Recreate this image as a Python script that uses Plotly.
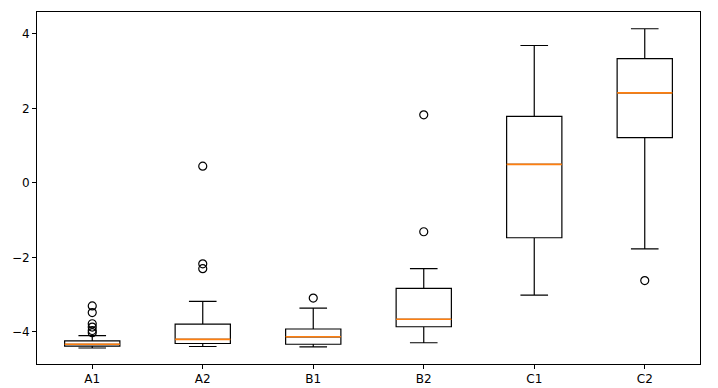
import plotly.graph_objects as go

categories = ["A1", "A2", "B1", "B2", "C1", "C2"]
positions = [1, 2, 3, 4, 5, 6]
q1 = [-4.38, -4.31, -4.33, -3.86, -1.47, 1.22]
median = [-4.33, -4.20, -4.13, -3.66, 0.50, 2.42]
q3 = [-4.24, -3.79, -3.92, -2.83, 1.79, 3.34]
lowerfence = [-4.43, -4.39, -4.40, -4.29, -3.01, -1.77]
upperfence = [-4.10, -3.18, -3.36, -2.30, 3.69, 4.14]
outliers = [
    [-3.30, -3.48, -3.78, -3.87, -3.96, -4.02],
    [0.45, -2.17, -2.30],
    [-3.09],
    [1.83, -1.31],
    [],
    [-2.62],
]

box_width = 0.5

fig = go.Figure()
fig.add_trace(go.Box(
    x=positions, q1=q1, median=median, q3=q3,
    lowerfence=lowerfence, upperfence=upperfence,
    width=box_width, whiskerwidth=0.5, boxpoints=False,
    fillcolor="rgba(255,255,255,0)",
    line=dict(color="black", width=1.2),
    showlegend=False, hoverinfo="skip",
))

# median lines in orange
mx, my = [], []
for p, m in zip(positions, median):
    mx += [p - box_width / 2, p + box_width / 2, None]
    my += [m, m, None]
fig.add_trace(go.Scatter(
    x=mx, y=my, mode="lines",
    line=dict(color="#ff7f0e", width=1.6),
    showlegend=False, hoverinfo="skip",
))

# outliers
ox, oy = [], []
for p, vals in zip(positions, outliers):
    for v in vals:
        ox.append(p)
        oy.append(v)
fig.add_trace(go.Scatter(
    x=ox, y=oy, mode="markers",
    marker=dict(symbol="circle-open", size=8, color="black", line=dict(width=1.2)),
    showlegend=False, hoverinfo="skip",
))

axis_common = dict(
    showgrid=False, zeroline=False, showline=True, mirror=True, automargin=False,
    linecolor="black", linewidth=1, ticks="outside", ticklen=4,
    tickcolor="black", tickfont=dict(family="DejaVu Sans", size=12, color="black"),
)

fig.update_layout(
    width=718, height=388,
    margin=dict(l=37, r=18, t=12, b=24),
    plot_bgcolor="white", paper_bgcolor="white",
    xaxis=dict(range=[0.5, 6.5], tickvals=positions, ticktext=categories, **axis_common),
    yaxis=dict(range=[-4.86, 4.59], tickvals=[-4, -2, 0, 2, 4],
               ticktext=["\u22124", "\u22122", "0", "2", "4"], **axis_common),
)

fig.write_html("out.html", config={"displayModeBar": False},
               post_script="document.body.style.margin='0';document.body.style.overflow='hidden';")
